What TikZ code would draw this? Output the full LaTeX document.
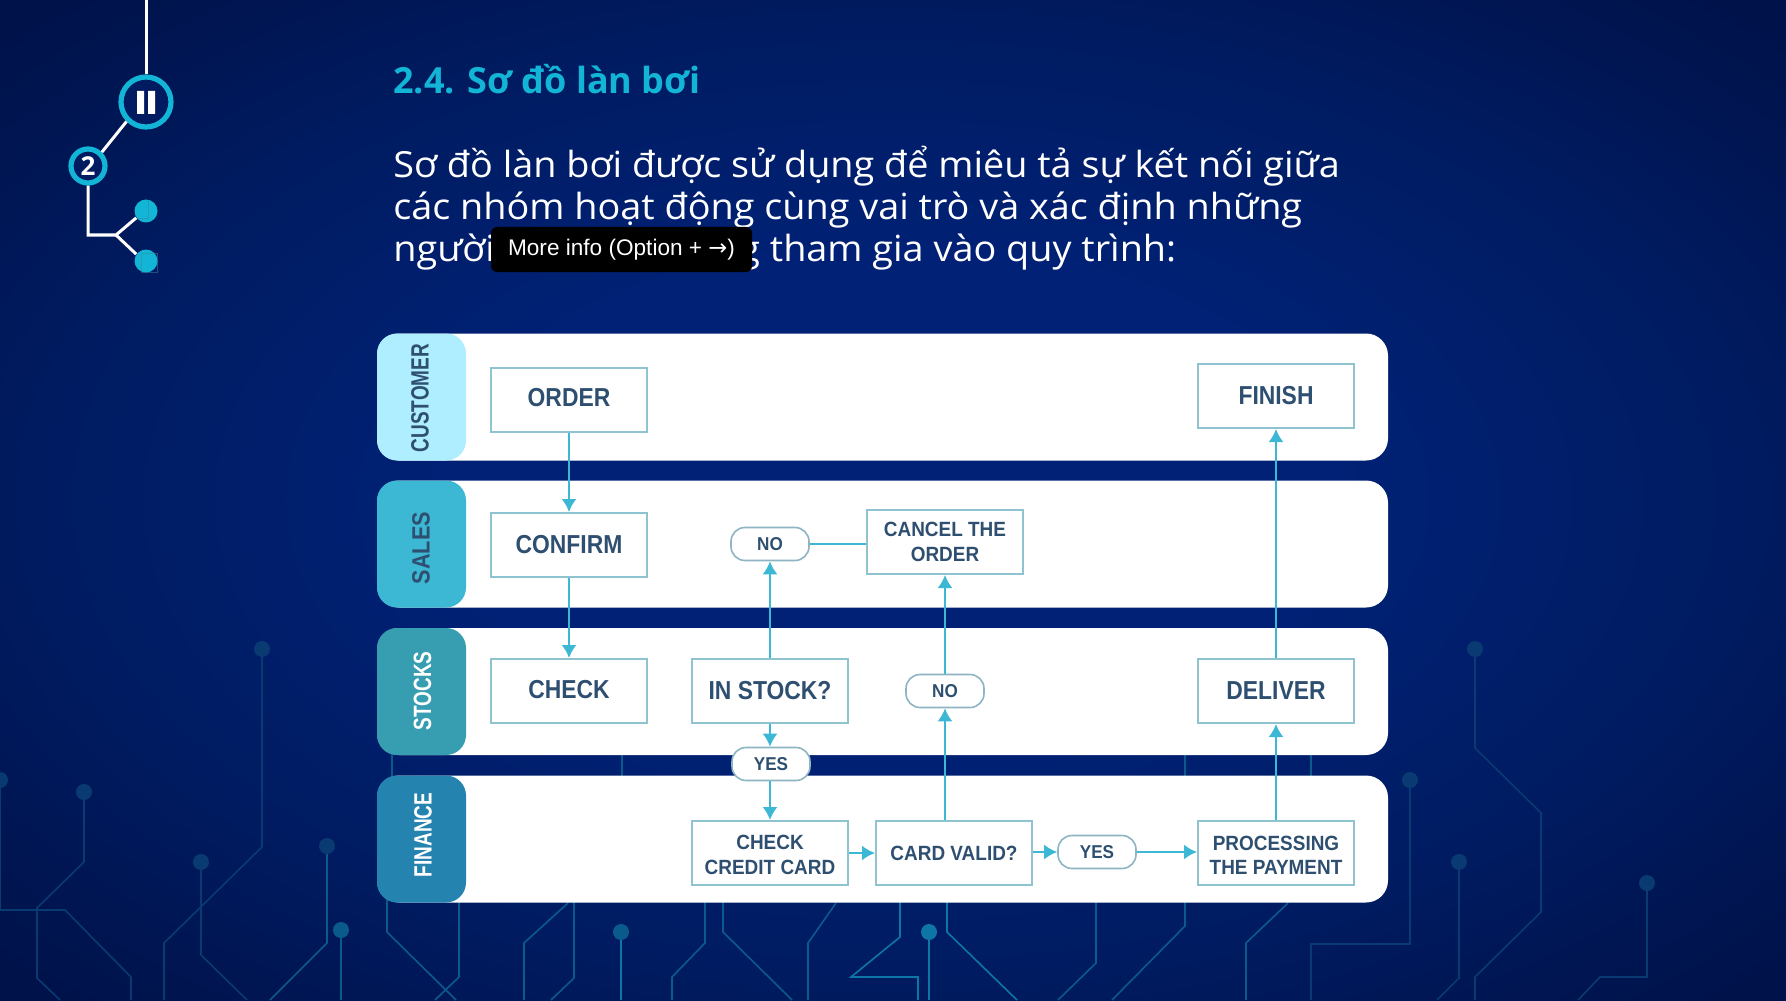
\documentclass[tikz,border=0pt]{standalone}
\usepackage{fontspec}
\usetikzlibrary{arrows.meta,calc}
\setmainfont{Open Sans}
\newfontfamily\bodyfont[FakeStretch=1.05]{Open Sans}
\newfontfamily\titlefont{Open Sans}
\newfontfamily\boxfont[FakeStretch=0.88]{Liberation Sans}
\newfontfamily\boxfontB[FakeStretch=0.92]{Liberation Sans}
\newfontfamily\lanefont[FakeStretch=0.76]{Liberation Sans}
\newfontfamily\tipfont{Liberation Sans}
\newfontfamily\arrowfont{DejaVu Sans}
\definecolor{bgA}{HTML}{002176}
\definecolor{bgB}{HTML}{001B60}
\definecolor{bgC}{HTML}{00124A}
\definecolor{cyanmark}{HTML}{12B5D6}
\definecolor{arrowc}{HTML}{3DB8D4}
\definecolor{boxline}{HTML}{8FC3D0}
\definecolor{pillline}{HTML}{8DB5C2}
\definecolor{inkc}{HTML}{2E4F70}
\definecolor{laneAc}{HTML}{AEEEFF}
\definecolor{laneCc}{HTML}{379DB0}
\definecolor{laneDc}{HTML}{2583AF}
\definecolor{trA}{HTML}{0A3A72}
\definecolor{trB}{HTML}{0B5A8C}
\definecolor{trC}{HTML}{0E76A6}
\pgfdeclareradialshading{bgshade}{\pgfpoint{0bp}{0bp}}{color(0bp)=(bgA); color(12bp)=(bgA); color(24bp)=(bgB); color(34bp)=(bgC); color(50bp)=(bgC)}
\tikzset{
  bandbox/.style={fill=white,rounded corners=11pt,minimum width=505.5pt,minimum height=63.5pt,inner sep=0pt},
  lanebox/.style={rounded corners=10pt,minimum width=44.5pt,minimum height=63.5pt,inner sep=0pt},
  lanetext/.style={rotate=90,inner sep=0pt,font=\lanefont\bfseries\fontsize{12.5pt}{14pt}\selectfont},
  flowbox/.style={draw=boxline,line width=1pt,fill=white,minimum width=78pt,minimum height=32pt,inner sep=0pt,align=center,text=inkc,font=\boxfont\bfseries\fontsize{13pt}{15pt}\selectfont},
  twoline/.style={font=\boxfontB\bfseries\fontsize{10.3pt}{12.3pt}\selectfont},
  pillbox/.style={draw=pillline,line width=.8pt,fill=white,rounded corners=7pt,minimum width=39pt,minimum height=16.5pt,inner sep=0pt,text=inkc,font=\boxfontB\bfseries\fontsize{9.3pt}{11pt}\selectfont},
  flow/.style={draw=arrowc,line width=1.1pt,-{Latex[length=6.5pt,width=7.5pt]}},
  plainflow/.style={draw=arrowc,line width=1.1pt},
  trdim/.style={draw=trA,line width=.8pt},
  trmid/.style={draw=trB,line width=.8pt},
  trhi/.style={draw=trC,line width=.8pt},
  bodyline/.style={anchor=base west,inner sep=0pt,text=white,font=\bodyfont\fontsize{18pt}{21pt}\selectfont},
  ring/.style={circle,draw=cyanmark,fill=bgB,inner sep=0pt},
  iconline/.style={draw=white,line width=1.5pt},
  dotc/.style={circle,fill=cyanmark,inner sep=0pt,minimum size=11.5pt}
}
\begin{document}
\begin{tikzpicture}[x=0.5pt,y=-0.5pt]
\useasboundingbox (0,0) rectangle (1786,1000);
\fill[shading=bgshade] (0,0) rectangle (1786,1000);
% circuit traces
\draw[trdim] (262,649)--(262,847)--(164,943)--(164,1000);
\draw[trdim] (84,792)--(84,862)--(37,908)--(37,978)--(60,1000);
\draw[trdim] (0,780)--(0,910)--(65,910)--(131,977)--(131,1000);
\draw[trdim] (201,862)--(201,955)--(247,1000);
\draw[trmid] (327,846)--(327,943)--(270,1000);
\draw[trmid] (341,930)--(341,1000);
\draw[trmid] (387,880)--(387,932)--(456,1000);
\draw[trmid] (459,880)--(459,977)--(435,1000);
\draw[trmid] (568,903)--(524,943)--(524,1000);
\draw[trmid] (574,880)--(574,978)--(551,1000);
\draw[trhi] (621,932)--(621,1000);
\draw[trmid] (705,880)--(705,943)--(672,977)--(672,1000);
\draw[trmid] (723,880)--(723,932)--(792,1000);
\draw[trmid] (836,903)--(808,943)--(808,1000);
\draw[trhi] (900,880)--(900,937)--(851,977)--(918,977)--(918,1000);
\draw[trhi] (929,932)--(929,1000);
\draw[trhi] (947,880)--(947,932)--(1017,1000);
\draw[trmid] (1096,880)--(1096,963)--(1058,1000);
\draw[trmid] (1185,880)--(1185,926)--(1112,1000);
\draw[trmid] (1288,903)--(1246,943)--(1246,1000);
\draw[trdim] (1410,780)--(1410,944)--(1311,944)--(1311,1000);
\draw[trdim] (1459,862)--(1459,978)--(1437,1000);
\draw[trdim] (1475,649)--(1475,748)--(1541,813)--(1541,912)--(1475,977)--(1475,1000);
\draw[trdim] (1647,883)--(1647,977)--(1600,977)--(1578,1000);
\draw[trmid] (392,750)--(392,780);
\draw[trmid] (622,750)--(622,780);
\draw[trmid] (1185,750)--(1185,780);
\draw[trmid] (1311,750)--(1311,780);
\foreach \px/\py/\pc in {262/649/trA,84/792/trA,0/780/trA,201/862/trA,327/846/trA,341/930/trB,621/932/trB,929/932/trC,1410/780/trA,1459/862/trA,1475/649/trA,1647/883/trA}
  \fill[\pc] (\px,\py) circle (4pt);
% outline icon
\node[ring,line width=2.6pt,minimum size=25pt] (roman) at (146,102) {};
\node[ring,line width=2.6pt,minimum size=17pt,text=white,font=\fontsize{13pt}{14pt}\bfseries\selectfont] (sec) at (88,166) {2};
\coordinate (topend) at (146,0);
\coordinate (knee) at (88,235);
\coordinate (fork) at (116,235);
\node[dotc] (dotA) at (146,211) {};
\node[dotc] (dotB) at (146,261) {};
\draw[iconline] (topend) -- (roman.north);
\draw[iconline] (roman.225) -- (sec.45);
\draw[iconline] (sec.south) -- (knee) -- (fork) -- (dotA.215);
\draw[iconline] (fork) -- (dotB.145);
\fill[white] (137,91) rectangle (144,114) (148,91) rectangle (155,114);
\draw[cyan!60!black,opacity=.5,line width=.4pt] (148,200)--(148,218)--(137,218) (141,253) rectangle (157,272);
% heading and paragraph
\node[anchor=base west,inner sep=0pt,text=cyanmark,font=\titlefont\bfseries\fontsize{18pt}{21pt}\selectfont] (title) at (393,94) {2.4. Sơ đồ làn bơi};
\node[bodyline] (bodyA) at (393,177) {Sơ đồ làn bơi được sử dụng để miêu tả sự kết nối giữa};
\node[bodyline] (bodyB) at (393,220) {các nhóm hoạt động cùng vai trò và xác định những};
\node[bodyline] (bodyC) at (393,261) {người};
\node[bodyline] (bodyD) at (739,261) {g tham gia vào quy trình:};
\node[fill=black,rounded corners=3pt,minimum width=130.5pt,minimum height=22.5pt,inner sep=0pt,text=white,font=\tipfont\fontsize{11.3pt}{12pt}\selectfont] (tip) at (621.5,249.5) {More info (Option + {\arrowfont →})};
% swim lanes
\node[bandbox] (bandA) at (882.5,397) {};
\node[bandbox] (bandB) at (882.5,544) {};
\node[bandbox] (bandC) at (882.5,691.5) {};
\node[bandbox] (bandD) at (882.5,839) {};
\node[lanebox,fill=laneAc] (laneA) at (421.5,397) {};
\node[lanebox,fill=arrowc] (laneB) at (421.5,544) {};
\node[lanebox,fill=laneCc] (laneC) at (421.5,691.5) {};
\node[lanebox,fill=laneDc] (laneD) at (421.5,839) {};
\node[lanetext,text=inkc] (labA) at (420,398) {CUSTOMER};
\node[lanetext,text=inkc] (labB) at (421,548) {\scalebox{1.14}[1]{SALES}};
\node[lanetext,text=white] (labC) at (422.5,691) {STOCKS};
\node[lanetext,text=white] (labD) at (423,835) {FINANCE};
% process boxes
\node[flowbox] (order) at (569,400) {\raisebox{2.4pt}{ORDER}};
\node[flowbox] (finish) at (1276,396) {FINISH};
\node[flowbox] (confirm) at (569,545) {CONFIRM};
\node[flowbox,twoline] (cancel) at (945,542) {CANCEL THE\\ORDER};
\node[pillbox] (noA) at (770,544) {NO};
\node[flowbox] (check) at (569,691) {\raisebox{1.5pt}{CHECK}};
\node[flowbox] (instock) at (770,691) {IN STOCK?};
\node[pillbox] (noB) at (945,691) {NO};
\node[flowbox] (deliver) at (1276,691) {DELIVER};
\node[pillbox] (yesA) at (771,764) {YES};
\node[flowbox,twoline] (ccard) at (770,853) {\rule{0pt}{9pt}CHECK\\CREDIT CARD};
\node[flowbox,twoline] (valid) at (954,853) {CARD VALID?};
\node[pillbox] (yesB) at (1097,852) {YES};
\node[flowbox,twoline] (pay) at (1276,853) {\rule{0pt}{9.5pt}PROCESSING\\THE PAYMENT};
% connectors
\draw[flow] (order) -- (confirm);
\draw[flow] (confirm) -- (check);
\draw[flow] (instock) -- (noA);
\draw[plainflow] (noA.east) -- (noA.east -| cancel.west);
\draw[flow] (instock) -- (instock.south |- yesA.north);
\draw[flow] (yesA.south -| ccard.north) -- (ccard.north);
\draw[flow] (ccard) -- (valid);
\draw[flow] (valid.north -| noB.south) -- (noB.south);
\draw[flow] (noB.north) -- (cancel.south);
\draw[flow] (valid.east |- yesB.west) -- (yesB.west);
\draw[flow] (yesB.east) -- (yesB.east -| pay.west);
\draw[flow] (pay) -- (deliver);
\draw[flow] (deliver) -- (finish);
\end{tikzpicture}
\end{document}
